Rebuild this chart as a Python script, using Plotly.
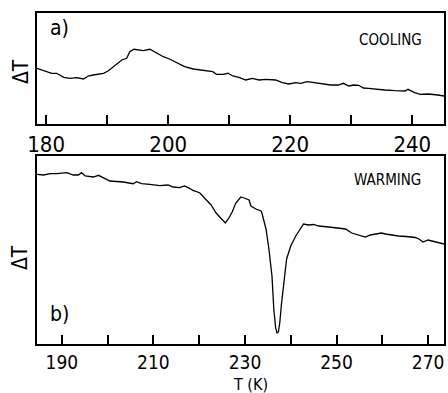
import plotly.graph_objects as go

# Panel a) cooling: temperature (K) and ΔT (arbitrary units)
temp_cooling = [178.5, 179.6, 180.9, 181.7, 182.9, 183.9, 185.0, 186.1, 186.9, 187.7, 189.4,
                190.2, 191.3, 192.4, 193.2, 193.7, 194.4, 195.9, 197.0, 198.1, 199.2,
                200.2, 201.3, 202.7, 204.1, 205.7, 207.3, 207.9, 209.0, 209.8, 210.6,
                211.6, 212.7, 213.8, 214.9, 216.0, 217.6, 218.7, 219.8, 220.9, 221.7,
                222.8, 224.1, 225.8, 226.6, 227.9, 228.7, 229.6, 230.4, 231.2, 232.0,
                232.8, 233.9, 235.5, 237.2, 238.8, 239.3, 240.4, 241.3, 242.6, 244.2,
                245.2]
dT_cooling = [55.7, 53.3, 50.7, 50.7, 46.7, 45.7, 46.3, 45, 48, 49, 50.7,
              53.3, 59, 64, 65.7, 72.3, 74.7, 73.3, 74.7, 70.7, 67.3,
              65, 61.7, 57.3, 55, 54, 52.3, 49.7, 49.7, 50.7, 48,
              46.7, 44, 45.7, 44, 44.7, 44, 41.3, 40, 41.3, 40.7,
              42.3, 41.3, 40, 39, 39, 40.7, 38, 39, 38.7, 36,
              35.7, 35.3, 34, 33.3, 33, 34.7, 31.3, 29.7, 30, 29,
              28]

# Panel b) warming
temp_warming = [184.6, 186.0, 187.5, 188.9, 191.1, 192.5, 193.6, 194.3, 195.1, 196.9, 198.0,
                199.1, 200.5, 203.4, 205.6, 206.3, 207.4, 209.2, 211.4, 213.2, 214.3,
                215.7, 216.8, 217.9, 218.6, 220.1, 221.2, 222.6,
                223.7, 224.8, 225.7, 226.5, 227.2, 228.0, 229.1, 229.8, 230.2, 230.9,
                231.3, 232.4, 233.5, 233.7, 234.6, 235.2, 235.9, 236.3, 236.7, 237.0,
                237.3, 237.6, 238.0, 238.7, 239.1, 240.0, 241.1, 242.8, 243.9, 245.0,
                246.1, 248.3, 250.4, 252.0, 253.3, 254.8, 256.3, 257.4, 258.5, 259.8,
                260.7, 262.0, 263.5, 265.2, 267.2, 268.0, 268.9, 270.0, 271.7, 273.5]
dT_warming = [169.7, 169, 170.3, 170.3, 171.3, 169, 169, 171.3, 168, 167, 168.7,
              166.3, 163, 162, 160.3, 162.3, 160.3, 159.7, 158.3, 159, 157,
              156.3, 158, 155.7, 153.7, 151.3, 146.3, 139,
              131, 126, 121, 126, 132, 141, 147, 146, 145, 144,
              138, 135, 133, 131, 115, 96, 68, 35, 16, 11,
              12, 21, 41, 68, 85, 98, 108, 120, 119, 119.5,
              118, 117, 116, 115, 111, 109, 107, 109, 110, 111,
              110, 109, 108, 107.5, 106.5, 105, 102, 104, 102, 100]

ticks_a = [180, 200, 220, 240]
ticks_b = [190, 210, 230, 250, 270]

FONT = "DejaVu Sans"
NARROW = "Liberation Sans Narrow, DejaVu Sans Condensed, DejaVu Sans"
W, H = 448, 393
ML, MR, MT, MB = 37, 2, 13, 49
PW, PH = W - ML - MR, H - MT - MB
line = dict(color="black", width=1.3)

fig = go.Figure()
fig.add_trace(go.Scatter(x=temp_cooling, y=dT_cooling, mode="lines", line=line,
                         xaxis="x", yaxis="y", showlegend=False, hoverinfo="skip"))
fig.add_trace(go.Scatter(x=temp_warming, y=dT_warming, mode="lines", line=line,
                         xaxis="x2", yaxis="y2", showlegend=False, hoverinfo="skip"))

def xaxis(rng, ticks, anchor, size):
    return dict(range=rng, tickvals=ticks, ticktext=[str(t) for t in ticks],
                ticks="inside", ticklen=9, tickwidth=1.5, tickcolor="black",
                minor=dict(dtick=10, tick0=ticks[0], ticks="inside", ticklen=9,
                           tickwidth=1.5, tickcolor="black"),
                showline=True, linecolor="black", linewidth=1.8, mirror=True,
                showgrid=False, zeroline=False, anchor=anchor,
                ticklabeloverflow="allow",
                tickfont=dict(family=NARROW, size=size, color="black"))

def yaxis(rng, domain, anchor):
    return dict(range=rng, domain=domain, showticklabels=False, ticks="",
                showline=True, linecolor="black", linewidth=1.8, mirror=True,
                showgrid=False, zeroline=False, anchor=anchor)

bottom = H - MB
fig.update_layout(
    width=W, height=H,
    margin=dict(l=ML, r=MR, t=MT, b=MB),
    paper_bgcolor="white", plot_bgcolor="white",
    xaxis=xaxis([178.5, 245.2], ticks_a, "y", 22),
    yaxis=yaxis([0, 111], [(bottom - 124) / PH, 1.0], "x"),
    xaxis2=xaxis([184.57, 273.48], ticks_b, "y2", 19),
    yaxis2=yaxis([0, 188], [0.0, (bottom - 156) / PH], "x2"),
    font=dict(family=FONT, color="black"),
)

def px_ann(text, x, y, size, angle=0, family=NARROW):
    fig.add_annotation(text=text, x=(x - ML) / PW, y=(H - MB - y) / PH,
                       xref="paper", yref="paper",
                       showarrow=False, textangle=angle,
                       font=dict(family=family, size=size, color="black"),
                       xanchor="center", yanchor="middle")

px_ann("ΔT", 21, 72, 21, -90)
px_ann("ΔT", 20, 258, 21, -90)
px_ann("a)", 60, 28, 21)
px_ann("b)", 60, 314, 21)
px_ann("COOLING", 392, 40, 15)
px_ann("WARMING", 389, 180, 15)
px_ann("T (K)", 252, 384, 16)

fig.write_html("out.html", config={"displayModeBar": False},
               post_script="document.body.style.margin='0';")
